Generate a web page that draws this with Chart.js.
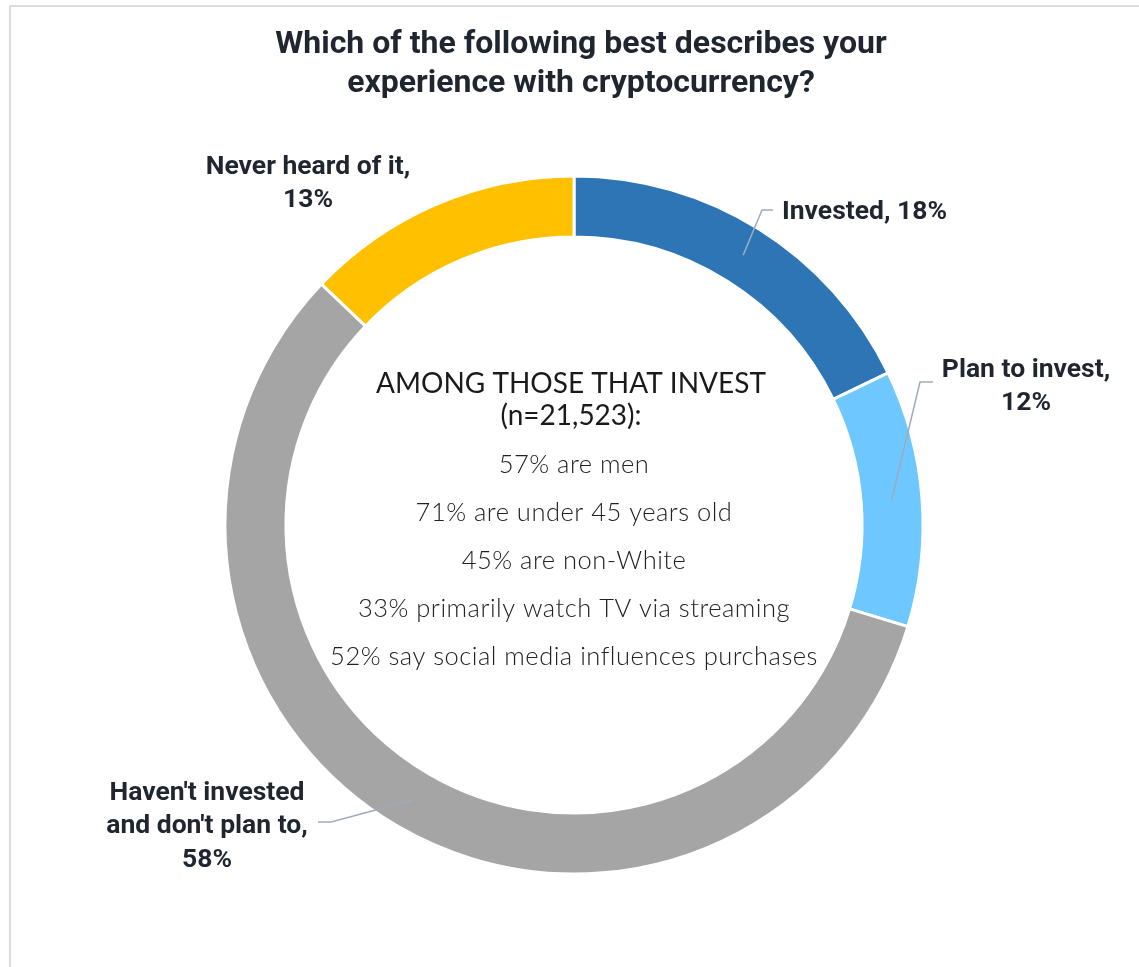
<!DOCTYPE html>
<html>
<head>
<meta charset="utf-8">
<script src="https://cdn.jsdelivr.net/npm/chart.js@4.4.1/dist/chart.umd.min.js"></script>
<style>
  html, body { margin: 0; padding: 0; background: #fff; }
  #frame {
    position: absolute; left: 9px; top: 5px; width: 1140px; height: 980px;
    border-top: 2px solid #dcdcdc; border-left: 2px solid #dcdcdc;
  }
  #wrap { position: absolute; left: 0; top: 0; width: 1139px; height: 967px; }
</style>
</head>
<body>
<div id="frame"></div>
<div id="wrap"><canvas id="myChart" width="1139" height="967"></canvas></div>
<script>
var titleLines = ["Which of the following best describes your", "experience with cryptocurrency?"];
var categories = ["Invested", "Plan to invest", "Haven't invested and don't plan to", "Never heard of it"];
var shares = [18, 12, 58, 13];
var sliceColors = ["#2E75B6", "#6EC7FE", "#A5A5A5", "#FFC000"];
var centerHeading = ["AMONG THOSE THAT INVEST", "(n=21,523):"];
var centerFacts = [
  "57% are men",
  "71% are under 45 years old",
  "45% are non-White",
  "33% primarily watch TV via streaming",
  "52% say social media influences purchases"
];

// where each slice label sits, and the elbow of its leader line (null = no line)
var labelLayout = [
  { lines: ["Invested, 18%"], x: 782, y: 212, align: "left", elbow: [762, 210], end: [773, 210] },
  { lines: ["Plan to invest,", "12%"], x: 1026, y: 370, align: "center", elbow: [920, 382], end: [933, 382] },
  { lines: ["Haven't invested", "and don't plan to,", "58%"], x: 207, y: 793, align: "center", elbow: [331, 822], end: [318, 822] },
  { lines: ["Never heard of it,", "13%"], x: 308, y: 167, align: "center", elbow: null }
];

var textPlugin = {
  id: "textPlugin",
  afterDraw: function (chart) {
    var ctx = chart.ctx;
    var meta = chart.getDatasetMeta(0);
    ctx.save();

    // title
    ctx.fillStyle = "#1F2630";
    ctx.font = "bold 32px Roboto";
    ctx.textAlign = "center";
    ctx.textBaseline = "middle";
    for (var t = 0; t < titleLines.length; t++) {
      ctx.fillText(titleLines[t], 581, 45 + t * 39);
    }

    // leader lines from the middle of each slice
    ctx.strokeStyle = "#9DABBD";
    ctx.lineWidth = 1.5;
    for (var i = 0; i < labelLayout.length; i++) {
      var lay = labelLayout[i];
      if (!lay.elbow) continue;
      var arc = meta.data[i];
      var p = arc.getProps(["x", "y", "startAngle", "endAngle", "innerRadius", "outerRadius"], true);
      var mid = (p.startAngle + p.endAngle) / 2;
      var r = (p.innerRadius + p.outerRadius) / 2;
      ctx.beginPath();
      ctx.moveTo(p.x + Math.cos(mid) * r, p.y + Math.sin(mid) * r);
      ctx.lineTo(lay.elbow[0], lay.elbow[1]);
      ctx.lineTo(lay.end[0], lay.end[1]);
      ctx.stroke();
    }

    // slice labels
    ctx.font = "bold 26.5px Roboto";
    ctx.fillStyle = "#1F2630";
    for (var j = 0; j < labelLayout.length; j++) {
      var l = labelLayout[j];
      ctx.textAlign = l.align;
      for (var k = 0; k < l.lines.length; k++) {
        ctx.fillText(l.lines[k], l.x, l.y + k * 33.5);
      }
    }

    // text inside the ring
    ctx.textAlign = "center";
    ctx.fillStyle = "#1A1A1A";
    ctx.font = "28px Lato";
    for (var h = 0; h < centerHeading.length; h++) {
      ctx.fillText(centerHeading[h], 571, 384 + h * 32);
    }
    ctx.fillStyle = "#222222";
    ctx.font = "300 25.5px Lato";
    ctx.letterSpacing = "0.5px";
    for (var f = 0; f < centerFacts.length; f++) {
      ctx.fillText(centerFacts[f], 574, 465 + f * 48);
    }
    ctx.restore();
  }
};

var ctx = document.getElementById("myChart").getContext("2d");
var chart = new Chart(ctx, {
  type: "doughnut",
  data: {
    labels: categories,
    datasets: [
      {
        data: shares,
        backgroundColor: sliceColors,
        borderColor: "#ffffff",
        borderWidth: 3,
      },
    ],
  },
  options: {
    responsive: false,
    animation: false,
    radius: 349,
    cutout: 286,
    layout: {
      padding: { left: 226, right: 217, top: 177, bottom: 94 },
    },
    plugins: {
      legend: { display: false },
      tooltip: { enabled: false },
    },
  },
  plugins: [textPlugin],
});
</script>
</body>
</html>
